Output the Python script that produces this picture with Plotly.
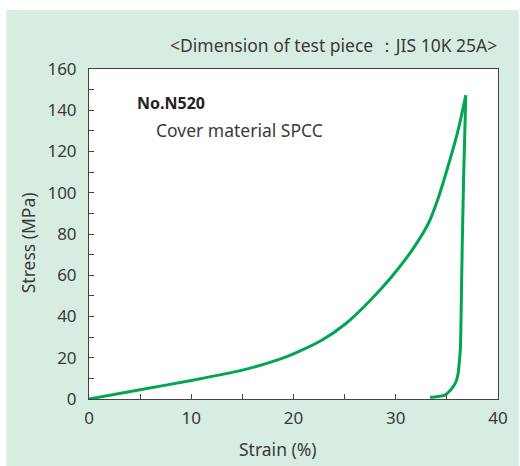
import plotly.graph_objects as go

# Loading curve (strain %, stress MPa)
load_strain = [0, 5, 10, 15, 18.6, 20, 22.8, 25.1, 27.4, 29.6, 31.6, 33.2, 34.2, 35.1, 36.1, 36.85]
load_stress = [0, 4.5, 9.0, 14.0, 19.2, 21.9, 28.6, 36.5, 47.3, 59.3, 72.2, 85.2, 98.1, 112.6, 130.4, 147.2]

# Unloading curve
unload_strain = [36.85, 36.65, 36.5, 36.42, 36.33, 36.2, 36.1, 35.9, 35.6, 35.2, 34.8, 34.0, 33.35]
unload_stress = [147.2, 110, 73.6, 50, 25.3, 17, 12.4, 8.5, 5.9, 3.5, 1.9, 1.1, 0.8]

x_ticks = [0, 10, 20, 30, 40]
y_ticks = [0, 20, 40, 60, 80, 100, 120, 140, 160]

GREEN = "#00a651"
BG = "#d8ede1"
TXT = "#3a3a3a"
FONT = "Noto Sans"

W, H = 520, 466
L, R, T, B = 89, 20, 69, 67
pw, ph = W - L - R, H - T - B

def px(xpix):
    return (xpix - L) / pw

def py(ypix):
    return (H - B - ypix) / ph

fig = go.Figure()
fig.add_trace(go.Scatter(x=load_strain, y=load_stress, mode="lines",
                         line=dict(color=GREEN, width=3, shape="spline", smoothing=0.8),
                         hoverinfo="skip"))
fig.add_trace(go.Scatter(x=unload_strain, y=unload_stress, mode="lines",
                         line=dict(color=GREEN, width=3, shape="spline", smoothing=0.5),
                         hoverinfo="skip"))

fig.update_layout(
    width=W, height=H,
    margin=dict(l=L, r=R, t=T, b=B),
    paper_bgcolor="white",
    plot_bgcolor="white",
    showlegend=False,
    font=dict(family=FONT, size=17, color=TXT),
    shapes=[
        dict(type="rect", xref="paper", yref="paper",
             x0=px(6), x1=px(521), y0=py(467), y1=py(10),
             fillcolor=BG, line=dict(width=0), layer="below"),
        dict(type="rect", xref="paper", yref="paper",
             x0=0, x1=1, y0=0, y1=1,
             fillcolor="white", line=dict(width=0), layer="below"),
    ],
    annotations=[
        dict(text="<Dimension of test piece ：JIS 10K 25A>", xref="paper", yref="paper",
             x=px(501), y=py(45), xanchor="right", yanchor="middle", showarrow=False,
             font=dict(size=17.5, color=TXT, family=FONT)),
        dict(text="<b>No.N520</b>", xref="paper", yref="paper",
             x=px(135), y=py(103), xanchor="left", yanchor="middle", showarrow=False,
             font=dict(size=16, color="#222222", family=FONT)),
        dict(text="Cover material SPCC", xref="paper", yref="paper",
             x=px(154), y=py(130), xanchor="left", yanchor="middle", showarrow=False,
             font=dict(size=17.5, color=TXT, family=FONT)),
        dict(text="Strain (%)", xref="paper", yref="paper",
             x=px(279), y=py(449), xanchor="center", yanchor="middle", showarrow=False,
             font=dict(size=17.5, color=TXT, family=FONT)),
        dict(text="Stress (MPa)", xref="paper", yref="paper", textangle=-90,
             x=px(28), y=py(243), xanchor="center", yanchor="middle", showarrow=False,
             font=dict(size=17.5, color=TXT, family=FONT)),
    ],
)

fig.update_xaxes(
    range=[0, 40], tickvals=x_ticks, ticktext=[str(v) for v in x_ticks],
    showgrid=False, zeroline=False,
    showline=True, linecolor="#444444", linewidth=1, mirror=True,
    ticks="inside", ticklen=5, tickcolor="#444444",
    minor=dict(ticks="inside", dtick=5, ticklen=5, tickcolor="#444444", showgrid=False),
    ticklabelstandoff=4,
    tickfont=dict(size=17, color=TXT),
)
fig.update_yaxes(
    range=[0, 160], tickvals=y_ticks, ticktext=[str(v) for v in y_ticks],
    showgrid=False, zeroline=False,
    showline=True, linecolor="#444444", linewidth=1, mirror=True,
    ticks="inside", ticklen=5, tickcolor="#444444",
    minor=dict(ticks="inside", dtick=10, ticklen=5, tickcolor="#444444", showgrid=False),
    ticklabelstandoff=8,
    tickfont=dict(size=17, color=TXT),
)

fig.write_html("out.html")
